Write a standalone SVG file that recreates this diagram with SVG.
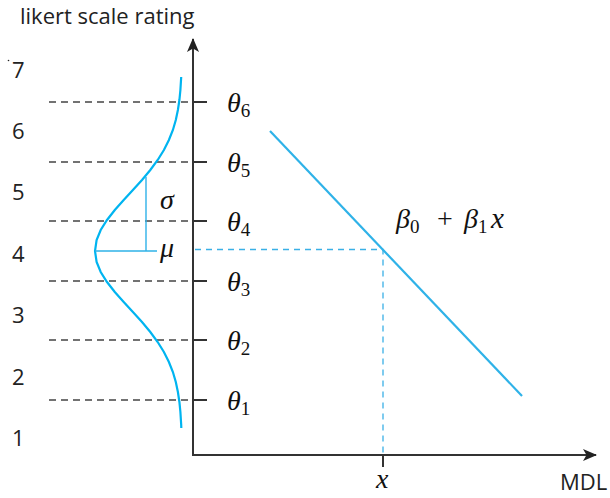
<svg xmlns="http://www.w3.org/2000/svg" width="610" height="498" viewBox="0 0 610 498">
<style>
.lbl{font-family:"Open Sans","Liberation Sans",sans-serif;font-size:22px;fill:#222}
.math{font-family:"Liberation Serif","DejaVu Serif",serif;font-style:italic;font-size:28px;fill:#111}
.sub{font-style:normal;font-size:19px}
.axis{stroke:#333;stroke-width:2;fill:none}
.dash{stroke:#444;stroke-width:1.3;stroke-dasharray:7 5;fill:none}
.tick{stroke:#333;stroke-width:2}
.blue{stroke:#2fb2e8;stroke-width:2.2;fill:none}
.bdash{stroke:#3ab0e6;stroke-width:1.3;stroke-dasharray:6 5;fill:none}
</style>
<defs>
<marker id="arr" viewBox="0 0 14 12" refX="13" refY="6" markerWidth="14" markerHeight="12" markerUnits="userSpaceOnUse" orient="auto">
<path d="M0,0 L14,6 L0,12 L3.5,6 Z" fill="#222"/>
</marker>
</defs>
<rect width="610" height="498" fill="#fff"/>
<text class="lbl" x="20" y="24" font-size="23">likert scale rating</text>
<circle cx="8.5" cy="60.5" r="0.8" fill="#222"/>
<g id="levels" class="lbl">
<text x="12" y="78">7</text>
<text x="12" y="139">6</text>
<text x="12" y="200">5</text>
<text x="12" y="262">4</text>
<text x="12" y="323">3</text>
<text x="12" y="385">2</text>
<text x="12" y="446">1</text>
</g>
<g id="thresholds">
<path class="dash" d="M49,102H193M49,162H193M49,221H193M49,281H193M49,340H193M49,400H193"/>
<path class="tick" d="M193,102H207M193,162H207M193,221H207M193,281H207M193,340H207M193,400H207"/>
</g>
<g id="curve">
<path class="blue" d="M181.2,77 L180.4,90 L179.4,100 L177.9,110 L175.8,120 L172.9,130 L168.9,140 L163.9,150 L157.7,160 L150.3,170 L142.0,180 L132.9,190 L123.7,200 L114.8,210 L107.0,220 L100.7,230 L96.6,240 L95,251 L96.6,262 L100.7,272 L107.0,282 L114.8,292 L123.7,302 L132.9,312 L142.0,322 L150.3,332 L157.7,342 L163.9,352 L168.9,362 L172.9,372 L175.8,382 L177.9,392 L179.4,402 L180.4,412 L181.2,425 L181.3,428" style="stroke:#00b4f0"/>
<path stroke="#2fb2e8" stroke-width="1.4" fill="none" d="M146,177V251M95,251H157"/>
</g>
<g id="connectors">
<path class="axis" d="M193,455V39" marker-end="url(#arr)"/>
<path class="axis" d="M192,455H596" marker-end="url(#arr)"/>
<path class="bdash" d="M195,249.5H383V455"/>
<path class="tick" d="M383,455V467"/>
<path class="blue" d="M270,131L522,396"/>
</g>
<g id="thetas" class="math">
<text x="227" y="112">θ<tspan class="sub" dy="5">6</tspan></text>
<text x="227" y="172">θ<tspan class="sub" dy="5">5</tspan></text>
<text x="227" y="231">θ<tspan class="sub" dy="5">4</tspan></text>
<text x="227" y="291">θ<tspan class="sub" dy="5">3</tspan></text>
<text x="227" y="350">θ<tspan class="sub" dy="5">2</tspan></text>
<text x="227" y="410">θ<tspan class="sub" dy="5">1</tspan></text>
</g>
<text class="math" x="160" y="209" font-size="26">σ</text>
<text class="math" x="160" y="257" font-size="26">μ</text>
<text class="math" y="228" font-size="32"><tspan x="396">β</tspan><tspan class="sub" x="410" dy="5">0</tspan><tspan x="437" dy="-5" font-style="normal" font-size="28">+</tspan><tspan x="464">β</tspan><tspan class="sub" x="478" dy="5">1</tspan><tspan x="491" dy="-5" font-size="29">x</tspan></text>
<text class="math" x="376" y="488">x</text>
<text class="lbl" x="560" y="490">MDL</text>
</svg>
